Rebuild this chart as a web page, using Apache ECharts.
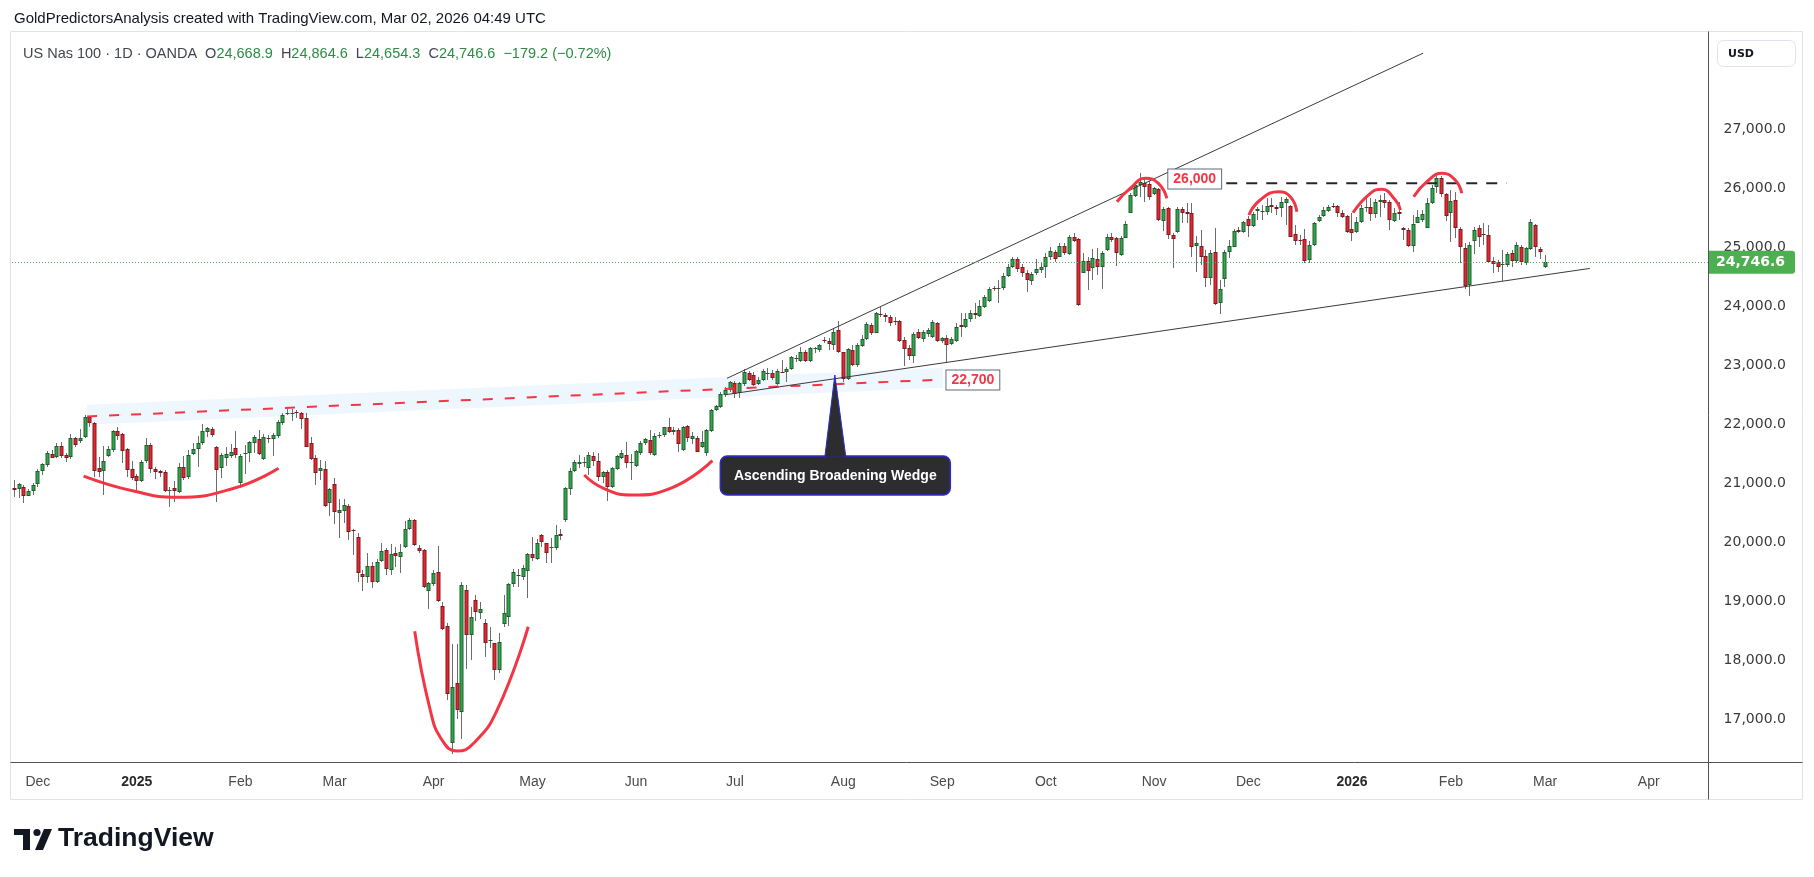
<!DOCTYPE html>
<html><head><meta charset="utf-8">
<script src="https://cdn.jsdelivr.net/npm/echarts@6/dist/echarts.min.js"></script>
<style>html,body{margin:0;padding:0;background:#fff;}#c{width:1814px;height:877px;}</style>
</head><body><div id="c"></div>
<script>
// ---------------- DATA ----------------
const startDate = [2024, 11, 25];           // first bar (Y, M, D)
const closedDays = ['2024-12-25','2025-01-01','2025-04-18','2025-12-25','2026-01-01'];
const barCount = 360;                        // bars incl. empty future space
const monthNames = ['Jan','Feb','Mar','Apr','May','Jun','Jul','Aug','Sep','Oct','Nov','Dec'];
const priceTicks = [17000,18000,19000,20000,21000,22000,23000,24000,25000,26000,27000];
const lastPrice = 24746.6;
const headerText = 'GoldPredictorsAnalysis created with TradingView.com, Mar 02, 2026 04:49 UTC';
const symbolText = 'US Nas 100 · 1D · OANDA';
const quote = {O:'24,668.9', H:'24,864.6', L:'24,654.3', C:'24,746.6', chg:'−179.2 (−0.72%)'};
// daily candles [open, high, low, close], from 2024-11-25
const ohlc = [
[20915,21057,20774,20881],[20898,21011,20746,20983],[20944,20972,20672,20791],[20791,20898,20780,20864],[20864,21000,20797,20966],
[20983,21249,20944,21209],[21204,21339,21141,21322],[21305,21548,21283,21514],[21491,21565,21424,21435],[21441,21678,21424,21627],
[21627,21700,21435,21463],[21480,21508,21367,21435],[21441,21836,21412,21763],[21763,21791,21622,21644],[21723,21915,21689,21763],
[21780,22158,21763,22130],[22124,22141,21960,22028],[22023,22045,21102,21215],[21260,21452,21102,21198],[21215,21639,20803,21378],
[21469,21639,21446,21582],[21565,21904,21537,21887],[21887,21961,21735,21808],[21836,21859,21350,21548],[21582,21599,21113,21232],
[21237,21384,21057,21096],[21124,21158,20859,21045],[21045,21396,21028,21362],[21384,21774,21350,21650],[21650,21689,21170,21249],
[21243,21283,21068,21198],[21215,21226,21113,21181],[21192,21226,20859,20876],[20881,20944,20593,20893],[20921,21045,20689,20876],
[20859,21339,20831,21271],[21271,21463,21057,21096],[21113,21565,21068,21475],[21497,21678,21480,21576],[21588,21802,21283,21678],
[21678,22006,21650,21887],[21876,21961,21780,21938],[21915,21949,21791,21814],[21610,21633,20689,21220],[21254,21508,21085,21475],
[21435,21622,21294,21491],[21458,21667,21424,21531],[21593,21887,21424,21475],[21011,21497,20915,21463],[21503,21650,21158,21514],
[21508,21723,21367,21695],[21689,21819,21508,21780],[21746,21904,21480,21503],[21418,21836,21395,21780],[21763,21819,21678,21757],
[21757,21847,21463,21814],[21808,22074,21763,22034],[22017,22187,21989,22153],[22187,22254,22153,22192],[22187,22254,22062,22192],
[22204,22243,22102,22192],[22187,22209,21915,22096],[22102,22187,21610,21622],[21678,21780,21396,21407],[21424,21480,20972,21170],
[21215,21396,21057,21254],[21237,21384,20605,20622],[20661,20927,20446,20910],[20983,21096,20311,20520],[20492,20735,20079,20548],
[20531,20735,20322,20627],[20616,20644,20034,20181],[20209,20226,19785,20198],[20085,20164,19333,19486],[19458,19531,19181,19418],
[19418,19814,19305,19599],[19599,19673,19220,19322],[19333,19712,19305,19672],[19690,19983,19672,19859],[19870,19898,19446,19542],
[19531,19972,19446,19802],[19814,19915,19588,19774],[19746,19972,19475,19831],[19915,20362,19898,20220],[20220,20418,20209,20379],
[20379,20390,19938,19949],[19898,19955,19814,19859],[19870,19893,19220,19249],[19181,19333,18877,19305],[19288,19531,19260,19486],
[19503,19937,18990,19011],[18921,18990,18520,18537],[18582,18627,17322,17424],[16604,18277,16412,17554],[17610,18277,17010,17158],
[17130,19327,16666,19271],[19186,19282,17853,18429],[18435,18898,18011,18734],[19017,19102,18672,18825],[18808,18994,18695,18870],
[18627,18706,18062,18299],[18333,18560,18204,18350],[18288,18300,17661,17836],[17836,18457,17779,18305],[18615,19102,18559,18796],
[18729,19310,18576,19288],[19288,19553,19248,19491],[19446,19548,19248,19440],[19418,19610,19367,19559],[19520,19825,19062,19802],
[19802,20085,19690,19729],[19717,20051,19700,19983],[20124,20141,19927,19999],[19983,19994,19650,19813],[19910,20068,19650,19915],
[19898,20293,19870,20119],[20141,20220,20034,20102],[20379,20944,20350,20915],[20898,21254,20808,21209],[21215,21395,21192,21362],
[21322,21480,21260,21356],[21350,21452,21283,21367],[21266,21525,21141,21475],[21463,21525,21294,21384],[21379,21508,21034,21102],
[21113,21215,21006,21186],[21186,21220,20706,20932],[20932,21271,20915,21254],[21237,21475,21226,21458],[21435,21565,21407,21520],
[21475,21695,21260,21350],[21350,21491,21062,21356],[21299,21565,21271,21548],[21520,21723,21480,21689],[21678,21774,21655,21751],
[21734,21904,21480,21508],[21475,21859,21463,21802],[21808,21864,21774,21814],[21819,21960,21785,21949],[21949,22102,21847,21876],
[21864,21961,21825,21910],[21898,21932,21531,21661],[21565,21972,21548,21949],[21966,21989,21706,21763],[21746,21876,21661,21797],
[21774,21802,21525,21537],[21621,21887,21593,21700],[21508,21915,21463,21904],[21893,22254,21870,22243],[22243,22322,22220,22311],
[22288,22548,22277,22514],[22497,22638,22470,22582],[22582,22740,22548,22712],[22695,22740,22441,22514],[22525,22712,22441,22695],
[22684,22932,22650,22887],[22864,22910,22740,22751],[22836,22893,22650,22666],[22684,22797,22666,22751],[22751,22932,22740,22910],
[22876,22950,22751,22853],[22864,22921,22751,22780],[22684,22932,22666,22910],[22893,23090,22864,22887],[22893,22966,22723,22938],
[22932,23158,22921,23136],[23125,23175,23062,23113],[23079,23316,23062,23232],[23232,23260,23062,23079],[23073,23316,23062,23288],
[23283,23316,23215,23294],[23254,23356,23232,23339],[23424,23475,23373,23418],[23407,23458,23260,23356],[23345,23627,23260,23560],
[23599,23751,23215,23232],[23220,23232,22723,22763],[22763,23288,22751,23271],[23260,23345,22988,22999],[23006,23373,22977,23339],
[23328,23514,23316,23441],[23441,23740,23430,23701],[23684,23723,23514,23554],[23554,23910,23542,23881],[23870,23983,23814,23860],
[23847,23893,23740,23813],[23814,23853,23667,23723],[23751,23814,23684,23729],[23751,23768,23401,23412],[23429,23486,22988,23271],
[23288,23345,23090,23158],[23158,23571,23045,23531],[23571,23610,23440,23458],[23446,23599,23400,23571],[23531,23627,23486,23599],
[23486,23768,23458,23740],[23712,23740,23401,23412],[23412,23480,23380,23458],[23458,23514,23045,23345],[23356,23480,23340,23446],
[23412,23712,23401,23655],[23683,23882,23486,23644],[23644,23882,23630,23780],[23785,23938,23740,23882],[23882,24051,23780,23853],
[23842,24107,23820,24006],[23994,24192,23965,24153],[24096,24322,24080,24288],[24311,24345,24266,24305],[24305,24446,24051,24316],
[24305,24560,24277,24514],[24520,24718,24503,24673],[24661,24842,24644,24803],[24803,24831,24588,24633],[24673,24718,24503,24560],
[24560,24616,24249,24446],[24435,24588,24362,24548],[24560,24797,24531,24627],[24616,24729,24560,24673],[24673,24899,24475,24831],
[24831,25000,24785,24944],[24915,24955,24757,24803],[24842,25079,24831,25023],[25023,25068,24870,24898],[24887,25209,24870,25181],
[25181,25249,25096,25113],[25136,25153,24000,24023],[24571,24899,24560,24774],[24768,24842,24277,24605],[24644,24966,24446,24814],
[24803,24983,24531,24661],[24673,24944,24288,24899],[24955,25226,24944,25181],[25181,25237,25096,25124],[25153,25170,24684,24898],
[24870,25192,24850,25153],[25164,25447,25153,25390],[25588,25916,25576,25887],[25870,26096,25859,26051],[26057,26266,25859,26102],
[26085,26198,25774,26029],[26068,26130,25802,25859],[25904,26029,25887,26000],[25983,26000,25452,25464],[25452,25690,25283,25644],
[25661,25690,25136,25209],[25209,25237,24644,25136],[25254,25690,25237,25644],[25644,25690,25407,25577],[25605,25746,25407,25560],
[25577,25746,24842,25011],[25028,25200,24587,25068],[25023,25294,24701,24842],[24853,24955,24334,24475],[24486,24955,24362,24898],
[24921,25322,24023,24034],[24062,24446,23870,24288],[24458,24955,24334,24921],[24915,25124,24820,25023],[25012,25305,25000,25277],
[25294,25350,25237,25254],[25254,25452,25237,25435],[25480,25531,25170,25367],[25367,25605,25350,25565],[25616,25689,25463,25644],
[25594,25718,25463,25622],[25605,25830,25548,25701],[25718,25830,25576,25678],[25678,25718,25548,25656],[25661,25859,25520,25774],
[25757,25859,25379,25825],[25701,25718,25170,25181],[25226,25379,25040,25113],[25130,25209,25040,25124],[25136,25311,24729,24774],
[24785,25113,24729,25040],[25040,25435,25023,25407],[25452,25548,25435,25520],[25531,25689,25520,25633],[25622,25718,25605,25690],
[25706,25757,25661,25701],[25701,25718,25520,25577],[25588,25633,25492,25509],[25531,25548,25249,25266],[25305,25588,25113,25237],
[25266,25520,25237,25435],[25435,25718,25407,25661],[25678,25830,25605,25689],[25690,25830,25452,25559],[25560,25814,25492,25774],
[25763,25887,25520,25802],[25802,25915,25661,25757],[25774,25802,25294,25463],[25446,25661,25435,25577],[25599,25774,25463,25559],
[25322,25350,25124,25288],[25294,25322,25000,25023],[25023,25548,24927,25396],[25418,25633,25407,25520],[25463,25633,25435,25565],
[25333,25830,25322,25746],[25746,26057,25729,26000],[26029,26243,25915,26170],[26181,26209,25860,25899],[25899,25915,25452,25537],
[25577,25972,25096,25786],[25803,25943,25153,25333],[25305,25350,24729,25000],[24983,25068,24300,24345],[24362,25096,24181,25040],
[25113,25350,24893,25294],[25322,25379,25000,25181],[25226,25407,25040,25220],[25209,25379,24729,24757],[24768,24842,24560,24718],
[24757,24785,24588,24672],[24712,24955,24423,24723],[24701,24927,24672,24882],[24898,24955,24672,24768],[24768,25096,24729,25040],
[25000,25034,24701,24746],[24740,25011,24707,24983],[24966,25480,24955,25435],[25379,25396,24838,25000],[24972,25011,24796,24925.8],
[24668.9,24864.6,24654.3,24746.6]
];
// drawings, in [bar index, price]
const resistanceLine = [[15.45,22133],[197.2,22760]];
const resistanceBand = {above:200, below:140};
const resistanceLabel = {text:'22,700', at:[197.9,22752]};
const topLine = [[257.3,26085],[316.8,26085]];
const topLabel = {text:'26,000', at:[245.0,26158]};
const wedgeUpper = [[151.3,22780],[299.1,28291]];
const wedgeLower = [[151.3,22506],[334.5,24643]];
const calloutText = 'Ascending Broadening Wedge';
const calloutTip = [174.2,22836];
const calloutBox = [174.3,21133];
const arcs = [
  [[14.7,21124],[25.3,20869],[34.5,20763],[46.6,20916],[56.1,21255]],
  [[85.0,18492],[88.3,17158],[90.8,16650],[94.0,16463],[97.5,16594],[102.5,17158],[109.1,18570]],
  [[121.0,21141],[125.1,20916],[131.1,20802],[139.3,20916],[148.2,21384]],
  [[234.1,25774],[236.9,25999],[240.1,26170],[242.9,26086],[244.7,25831]],
  [[262.1,25548],[264.5,25803],[268.4,25943],[270.9,25859],[272.3,25604]],
  [[284.2,25587],[287.9,25915],[290.3,25984],[293.2,25802],[294.3,25633]],
  [[297.1,25858],[299.9,26113],[303.1,26255],[305.9,26142],[307.3,25916]]
];

// ---------------- BUILD ----------------
const dates = [];
(function () {
  const d = new Date(Date.UTC(startDate[0], startDate[1] - 1, startDate[2]));
  while (dates.length < barCount) {
    const wd = d.getUTCDay();
    const iso = d.toISOString().slice(0, 10);
    if (wd >= 1 && wd <= 5 && closedDays.indexOf(iso) < 0) dates.push(iso);
    d.setUTCDate(d.getUTCDate() + 1);
  }
})();
const labelAt = {};
for (let i = 1; i < dates.length; i++) {
  if (dates[i].slice(5, 7) !== dates[i - 1].slice(5, 7)) {
    const m = +dates[i].slice(5, 7);
    labelAt[i] = m === 1 ? '{y|' + dates[i].slice(0, 4) + '}' : monthNames[m - 1];
  }
}
const candles = ohlc.map((r, i) => [i, r[0], r[1], r[2], r[3]]);
const fmtPrice = v => v.toLocaleString('en-US', {minimumFractionDigits: 1, maximumFractionDigits: 1});

const FONT = '"Liberation Sans", Arial, sans-serif';
const AXFONT = '"DejaVu Sans", Verdana, sans-serif';
const UP = '#2fa84a', UPB = '#1f5c2e', DN = '#ea2530', DNB = '#7a1b20', WICK = '#6c6c6c';
const RED = '#f23645';

const chart = echarts.init(document.getElementById('c'), null, {renderer: 'canvas'});

function renderCandle(params, api) {
  const i = api.value(0), o = api.value(1), h = api.value(2), l = api.value(3), c = api.value(4);
  const pO = api.coord([i, o]), pC = api.coord([i, c]), pH = api.coord([i, h]), pL = api.coord([i, l]);
  const xi = Math.round(pO[0] - 0.5);          // centre pixel column
  const up = c >= o;
  let top = Math.round(Math.min(pO[1], pC[1])), bot = Math.round(Math.max(pO[1], pC[1]));
  if (bot - top < 1) bot = top + 1;
  const kids = [
    {type: 'rect', shape: {x: xi, y: Math.round(pH[1]), width: 1, height: Math.max(1, Math.round(pL[1]) - Math.round(pH[1]))}, style: {fill: WICK}},
    {type: 'rect', shape: {x: xi - 1.5, y: top, width: 4, height: bot - top}, style: {fill: up ? UPB : DNB}}
  ];
  if (bot - top > 2) kids.push({type: 'rect', shape: {x: xi - 0.5, y: top + 1, width: 2, height: bot - top - 2}, style: {fill: up ? UP : DN}});
  return {type: 'group', children: kids};
}

function lineSeries(name, pts, style, z) {
  return {type: 'line', name: name, xAxisIndex: 1, yAxisIndex: 0, data: pts, symbol: 'none',
    silent: true, animation: false, lineStyle: style, z: z || 4, smooth: false};
}

const series = [
  {type: 'custom', name: 'band', xAxisIndex: 1, yAxisIndex: 0, data: [[0]], silent: true, z: 1,
    renderItem: function (params, api) {
      const a = resistanceLine[0], b = resistanceLine[1];
      const p1 = api.coord([a[0], a[1] + resistanceBand.above]);
      const p2 = api.coord([b[0], b[1] + resistanceBand.above]);
      const p3 = api.coord([b[0], b[1] - resistanceBand.below]);
      const p4 = api.coord([a[0], a[1] - resistanceBand.below]);
      return {type: 'polygon', shape: {points: [p1, p2, p3, p4]}, style: {fill: 'rgba(33,150,243,0.08)'}};
    }},
  {type: 'custom', name: 'US Nas 100', xAxisIndex: 0, yAxisIndex: 0, data: candles, z: 2,
    encode: {x: 0, y: [1, 2, 3, 4]}, renderItem: renderCandle, animation: false},
  Object.assign(lineSeries('last', [], {width: 0}, 1), {
    markLine: {silent: true, symbol: 'none', animation: false, label: {show: false},
      lineStyle: {type: [1, 2], color: '#4caf50', width: 1}, data: [{yAxis: lastPrice}]}}),
  lineSeries('resistance', resistanceLine, {color: RED, width: 2, type: [10, 12]}, 3),
  lineSeries('wedgeUpper', wedgeUpper, {color: '#3b3b3b', width: 1}),
  lineSeries('wedgeLower', wedgeLower, {color: '#3b3b3b', width: 1}),
  lineSeries('top', topLine, {color: '#262626', width: 2, type: [11, 9]})
];
arcs.forEach((a, k) => {
  const s = lineSeries('arc' + k, a, {color: RED, width: 3}, 5);
  s.smooth = 0.5;
  series.push(s);
});

const option = {
  backgroundColor: '#ffffff',
  animation: false,
  grid: {left: 12, right: 106.4, top: 32, bottom: 115, containLabel: false},
  xAxis: [
    {type: 'category', data: dates, boundaryGap: true,
      axisLine: {show: false}, axisTick: {show: false}, splitLine: {show: false},
      axisLabel: {interval: (idx) => labelAt[idx] !== undefined, formatter: (v, idx) => labelAt[idx] || '',
        margin: 13, color: '#4a4a4a', fontSize: 14, fontFamily: FONT,
        rich: {y: {fontWeight: 'bold', color: '#2a2a2a', fontSize: 14, fontFamily: FONT}}}},
    {type: 'value', min: -0.5, max: barCount - 0.5, show: false}
  ],
  yAxis: [{type: 'value', position: 'right', min: 16277, max: 28650, scale: true,
    axisLine: {show: false}, axisTick: {show: false}, splitLine: {show: false},
    axisLabel: {customValues: priceTicks, formatter: v => fmtPrice(v), margin: 16, color: '#3a3a3a',
      fontSize: 14, fontFamily: AXFONT, padding: [0, 0, 5, 0]}}],
  series: series
};
chart.setOption(option);

// ---------------- OVERLAYS ----------------
const toPx = p => chart.convertToPixel({xAxisIndex: 1, yAxisIndex: 0}, p);
const g = [];
// frame
g.push({type: 'rect', shape: {x: 10.5, y: 31.5, width: 1792, height: 768}, style: {fill: null, stroke: '#e0e3eb', lineWidth: 1}, z: 0, silent: true});
g.push({type: 'line', shape: {x1: 10.5, y1: 762.5, x2: 1802.5, y2: 762.5}, style: {stroke: '#50535e', lineWidth: 1}, z: 10});
g.push({type: 'line', shape: {x1: 1708.5, y1: 31.5, x2: 1708.5, y2: 799.5}, style: {stroke: '#50535e', lineWidth: 1}, z: 10});
// header + legend
g.push({type: 'text', x: 14, y: 19, style: {text: headerText, font: '15px ' + FONT, fill: '#131722', textVerticalAlign: 'middle', verticalAlign: 'middle'}});
g.push({type: 'text', x: 23, y: 54, style: {
  text: '{t|' + symbolText + '}  {t|O}{v|' + quote.O + '}  {t|H}{v|' + quote.H + '}  {t|L}{v|' + quote.L + '}  {t|C}{v|' + quote.C + '}  {v|' + quote.chg + '}',
  textVerticalAlign: 'middle', verticalAlign: 'middle', font: '14.5px ' + FONT,
  rich: {t: {fill: '#434651', font: '14.5px ' + FONT}, v: {fill: '#2e8b45', font: '14.5px ' + FONT}}}});
// USD box
g.push({type: 'rect', shape: {x: 1717.5, y: 40.5, width: 78, height: 26, r: 6}, style: {fill: '#fff', stroke: '#e0e3eb', lineWidth: 1}, z: 10});
g.push({type: 'text', x: 1728, y: 54, style: {text: 'USD', font: 'bold 11px ' + AXFONT, fill: '#131722', textVerticalAlign: 'middle', verticalAlign: 'middle'}, z: 11});
// price tag
const yLast = toPx([0, lastPrice])[1];
g.push({type: 'rect', shape: {x: 1709, y: yLast - 11.5, width: 86, height: 23, r: [0, 3, 3, 0]}, style: {fill: '#4caf50'}, z: 12});
g.push({type: 'text', x: 1716, y: yLast, style: {text: fmtPrice(lastPrice), font: 'bold 14px ' + AXFONT, fill: '#fff', textVerticalAlign: 'middle', verticalAlign: 'middle'}, z: 13});
// level labels
[topLabel, resistanceLabel].forEach(lb => {
  const p = toPx(lb.at);
  g.push({type: 'text', x: p[0], y: p[1], z: 15, style: {text: lb.text, font: 'bold 14px ' + FONT, fill: RED,
    textVerticalAlign: 'middle', verticalAlign: 'middle', backgroundColor: '#fff', borderColor: '#5b6c7d', borderWidth: 1, padding: [3, 5, 2, 5]}});
});
// callout
const tip = toPx(calloutTip), box = toPx(calloutBox);
const bw = 230, bh = 39;
const boxTop = box[1] - bh / 2;
g.push({type: 'rect', z: 20, shape: {x: box[0] - bw / 2, y: boxTop, width: bw, height: bh, r: 7}, style: {fill: '#2d2d30', stroke: '#2b2bd6', lineWidth: 1.5}});
g.push({type: 'polygon', z: 21, shape: {points: [[tip[0], tip[1]], [tip[0] + 11, boxTop + 1], [tip[0] - 10, boxTop + 1]]}, style: {fill: '#2d2d30', stroke: '#2b2bd6', lineWidth: 1}});
g.push({type: 'rect', z: 22, shape: {x: tip[0] - 9, y: boxTop + 0.5, width: 19, height: 3}, style: {fill: '#2d2d30'}});
g.push({type: 'text', z: 23, x: box[0], y: box[1] + 1, style: {text: calloutText, font: 'bold 14px ' + FONT, fill: '#ffffff', textAlign: 'center', align: 'center', textVerticalAlign: 'middle', verticalAlign: 'middle'}});
// TradingView logo
g.push({type: 'rect', shape: {x: 14, y: 829, width: 16, height: 6}, style: {fill: '#131722'}});
g.push({type: 'rect', shape: {x: 23, y: 829, width: 7, height: 21}, style: {fill: '#131722'}});
g.push({type: 'circle', shape: {cx: 37, cy: 832.5, r: 3.6}, style: {fill: '#131722'}});
g.push({type: 'polygon', shape: {points: [[44, 829], [52, 829], [43, 850], [35, 850]]}, style: {fill: '#131722'}});
g.push({type: 'text', x: 58, y: 839, style: {text: 'TradingView', font: 'bold 26.5px ' + FONT, fill: '#131722', textVerticalAlign: 'middle', verticalAlign: 'middle'}});

chart.setOption({graphic: {elements: g}});
</script></body></html>
